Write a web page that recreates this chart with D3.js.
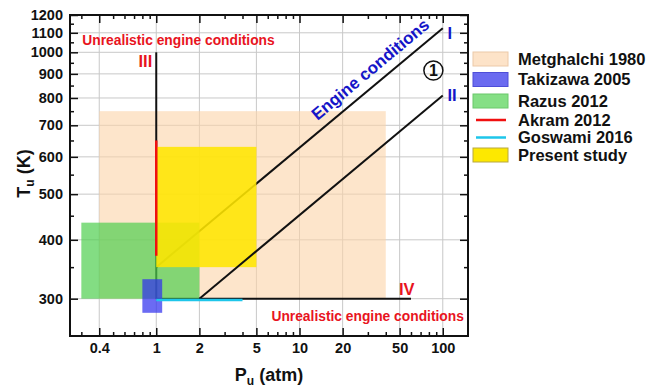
<!DOCTYPE html>
<html>
<head>
<meta charset="utf-8">
<script src="https://cdn.jsdelivr.net/npm/d3@7"></script>
<style>
  body { margin: 0; background: #fff; }
  text { font-family: Arial, "Liberation Sans", sans-serif; font-weight: bold; }
</style>
</head>
<body>
<svg id="chart"></svg>
<script>
// axis ticks
var pTicks = [0.4, 1, 2, 5, 10, 20, 50, 100];
var pMinor = [0.3, 0.5, 0.6, 0.7, 0.8, 0.9, 3, 4, 6, 7, 8, 9, 30, 40, 60, 70, 80, 90];
var tTicks = [300, 400, 500, 600, 700, 800, 900, 1000, 1100, 1200];
var tMinor = [350, 450, 550, 650, 750, 850, 950, 1050, 1150];

// studied ranges: [P min, P max, T min, T max]
var metghalchi = [0.4, 40, 300, 750];
var takizawa = [0.8, 1.1, 280, 330];
var razus = [0.3, 2, 300, 435];
var present = [1, 5, 350, 630];

// single-condition studies, as [P, T] points
var akram = [[1, 370], [1, 650]];
var goswami = [[1, 298], [4, 298]];

// boundary lines
var lineI = [[1, 350], [100, 1125]];
var lineII = [[2, 300], [100, 810]];
var lineIII = [[1, 300], [1, 1000]];
var lineIV = [[1, 300], [60, 300]];

// annotations: [text, P, T, colour]
var labels = [
  ["I", 112, 1100, "#1515c8"],
  ["II", 116, 812, "#1515c8"],
  ["III", 0.84, 960, "#e8141e"],
  ["IV", 56, 315, "#e8141e"]
];
var unrealistic = [[1.43, 1064], [29.9, 275]];
var circled = [86, 915];

var legendNames = ["Metghalchi 1980", "Takizawa 2005", "Razus 2012", "Akram 2012", "Goswami 2016", "Present study"];

var width = 646,
  height = 391,
  margin = { left: 70, top: 15, right: 178, bottom: 55 };

var x = d3.scaleLog().domain([0.25, 150]).range([margin.left, width - margin.right]);
var y = d3.scaleLog().domain([250, 1200]).range([height - margin.bottom, margin.top]);

var svg = d3.select("#chart").attr("width", width).attr("height", height);

// grid
svg.append("g")
  .selectAll("line")
  .data(pTicks)
  .join("line")
  .attr("x1", d => x(d)).attr("x2", d => x(d))
  .attr("y1", y.range()[0]).attr("y2", y.range()[1])
  .attr("stroke", "#c8c8c8").attr("stroke-width", 1);

svg.append("g")
  .selectAll("line")
  .data(tTicks.slice(0, -1))
  .join("line")
  .attr("x1", x.range()[0]).attr("x2", x.range()[1])
  .attr("y1", d => y(d)).attr("y2", d => y(d))
  .attr("stroke", "#c8c8c8").attr("stroke-width", 1);

function box(g, r, fill, op) {
  g.append("rect")
    .attr("x", x(r[0]))
    .attr("width", x(r[1]) - x(r[0]))
    .attr("y", y(r[3]))
    .attr("height", y(r[2]) - y(r[3]))
    .attr("fill", fill)
    .attr("fill-opacity", op);
}

var line = d3.line().x(d => x(d[0])).y(d => y(d[1]));

function path(g, pts, color, w) {
  g.append("path")
    .attr("d", line(pts))
    .attr("fill", "none")
    .attr("stroke", color)
    .attr("stroke-width", w);
}

var plot = svg.append("g");
box(plot, metghalchi, "#fcd3a8", 0.6);
path(plot, lineI, "#111", 2);
path(plot, lineIII, "#111", 2);
path(plot, lineIV, "#111", 2);
box(plot, razus, "#4fcf4f", 0.7);
box(plot, takizawa, "#3232ee", 0.72);
box(plot, present, "#ffe600", 0.88);
path(plot, lineII, "#111", 2);
path(plot, akram, "#f01010", 2.5);
path(plot, goswami, "#1ec6ea", 2.5);

// engine conditions text along line I
var a = [x(lineI[0][0]), y(lineI[0][1])],
  b = [x(lineI[1][0]), y(lineI[1][1])];
var ang = Math.atan2(b[1] - a[1], b[0] - a[0]) * 180 / Math.PI;
var f = 0.78;
plot.append("text")
  .attr("transform", "translate(" + (a[0] + f * (b[0] - a[0])) + "," + (a[1] + f * (b[1] - a[1])) + ") rotate(" + ang + ")")
  .attr("y", -9)
  .attr("text-anchor", "middle")
  .attr("font-size", "17px")
  .attr("fill", "#1515c8")
  .text("Engine conditions");

plot.selectAll(".lab")
  .data(labels)
  .join("text")
  .attr("class", "lab")
  .attr("x", d => x(d[1]))
  .attr("y", d => y(d[2]))
  .attr("dy", "0.36em")
  .attr("text-anchor", "middle")
  .attr("font-size", "16.5px")
  .attr("fill", d => d[3])
  .text(d => d[0]);

plot.selectAll(".unr")
  .data(unrealistic)
  .join("text")
  .attr("class", "unr")
  .attr("x", d => x(d[0]))
  .attr("y", d => y(d[1]))
  .attr("dy", "0.36em")
  .attr("text-anchor", "middle")
  .attr("font-size", "13.8px")
  .attr("fill", "#e8141e")
  .text("Unrealistic engine conditions");

plot.append("circle")
  .attr("cx", x(circled[0])).attr("cy", y(circled[1]))
  .attr("r", 9.5)
  .attr("fill", "none").attr("stroke", "#111").attr("stroke-width", 1.5);
plot.append("text")
  .attr("x", x(circled[0])).attr("y", y(circled[1]))
  .attr("dy", "0.36em")
  .attr("text-anchor", "middle")
  .attr("font-size", "16px")
  .attr("fill", "#111")
  .text("1");

// axes, ticks inside
var fmt = d => d;
var x0 = x.range()[0], x1 = x.range()[1], y0 = y.range()[0], y1 = y.range()[1];

function ticks(axis, pos, vals, size, labelled) {
  var g = svg.append("g")
    .attr("transform", pos)
    .call(axis.tickValues(vals).tickSize(-size).tickPadding(7).tickFormat(labelled ? fmt : ""));
  g.select(".domain").remove();
  g.selectAll("line").attr("stroke", "#111").attr("stroke-width", 1.5);
  g.selectAll("text").attr("font-size", "14.5px").attr("fill", "#111").attr("font-family", null);
  return g;
}

ticks(d3.axisBottom(x), "translate(0," + y0 + ")", pTicks, 8, true);
ticks(d3.axisBottom(x), "translate(0," + y0 + ")", pMinor, 4, false);
ticks(d3.axisTop(x), "translate(0," + y1 + ")", pTicks, 8, false);
ticks(d3.axisTop(x), "translate(0," + y1 + ")", pMinor, 4, false);
ticks(d3.axisLeft(y), "translate(" + x0 + ",0)", tTicks, 8, true);
ticks(d3.axisLeft(y), "translate(" + x0 + ",0)", tMinor, 4, false);
ticks(d3.axisRight(y), "translate(" + x1 + ",0)", tTicks, 8, false);
ticks(d3.axisRight(y), "translate(" + x1 + ",0)", tMinor, 4, false);

svg.append("rect")
  .attr("x", x0).attr("y", y1)
  .attr("width", x1 - x0).attr("height", y0 - y1)
  .attr("fill", "none").attr("stroke", "#111").attr("stroke-width", 2);

// axis titles
var xt = svg.append("text")
  .attr("x", (x0 + x1) / 2).attr("y", 381)
  .attr("text-anchor", "middle")
  .attr("font-size", "18px")
  .attr("fill", "#111");
xt.append("tspan").text("P");
xt.append("tspan").attr("font-size", "12px").attr("dy", 4).text("u");
xt.append("tspan").attr("dy", -4).text(" (atm)");

var yt = svg.append("text")
  .attr("transform", "translate(30," + ((y0 + y1) / 2 - 2) + ") rotate(-90)")
  .attr("text-anchor", "middle")
  .attr("font-size", "18px")
  .attr("fill", "#111");
yt.append("tspan").text("T");
yt.append("tspan").attr("font-size", "12px").attr("dy", 4).text("u");
yt.append("tspan").attr("dy", -4).text(" (K)");

// legend
var legend = svg.append("g").attr("transform", "translate(473,59)");
var legendRows = [
  { kind: "rect", fill: "#fde3c8", stroke: "#ecc9a8" },
  { kind: "rect", fill: "#6b6bf0", stroke: "#4e4ed8" },
  { kind: "rect", fill: "#85df85", stroke: "#6bc86b" },
  { kind: "line", fill: "#f01010" },
  { kind: "line", fill: "#1ec6ea" },
  { kind: "rect", fill: "#fde800", stroke: "#b8a840" }
];
var rowY = [0, 20.5, 42, 61, 78.5, 96];

legendRows.forEach(function (d, i) {
  var g = legend.append("g").attr("transform", "translate(0," + rowY[i] + ")");
  if (d.kind === "rect") {
    g.append("rect")
      .attr("x", 0).attr("y", -7)
      .attr("width", 35).attr("height", 14)
      .attr("fill", d.fill)
      .attr("stroke", d.stroke).attr("stroke-width", 1);
  } else {
    g.append("line")
      .attr("x1", 3).attr("x2", 33)
      .attr("stroke", d.fill).attr("stroke-width", 2.5);
  }
  g.append("text")
    .attr("x", 45).attr("dy", "0.36em")
    .attr("font-size", "16.5px")
    .attr("fill", "#111")
    .text(legendNames[i]);
});
</script>
</body>
</html>
